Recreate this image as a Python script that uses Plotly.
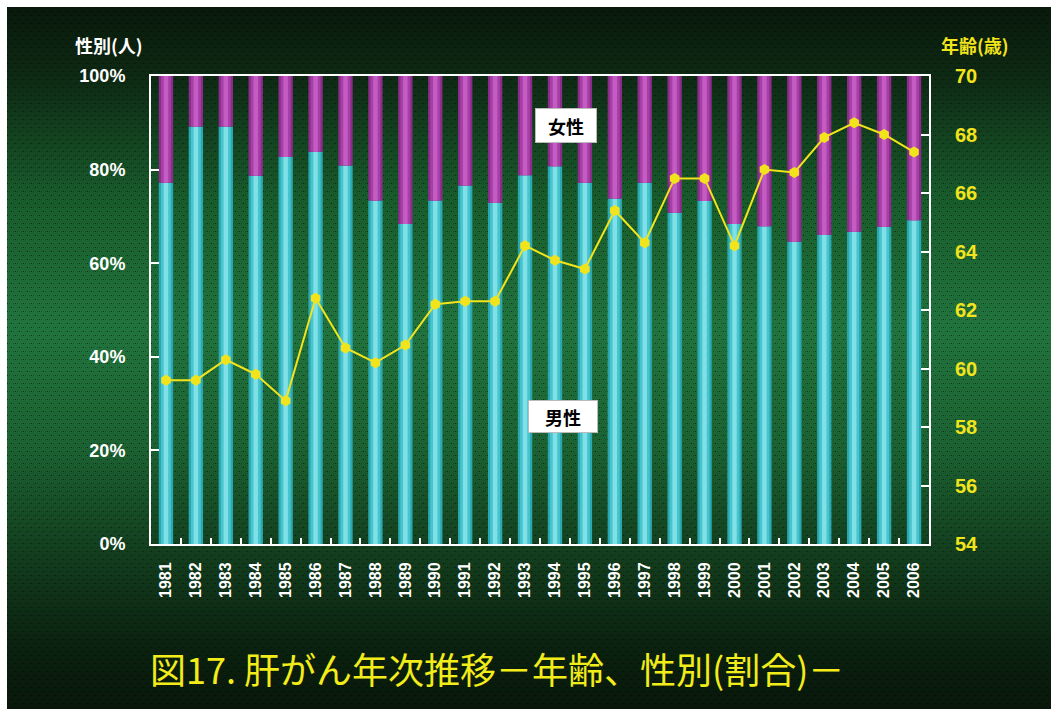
import base64, zlib, struct
import numpy as np
import plotly.graph_objects as go

years = ["1981", "1982", "1983", "1984", "1985", "1986", "1987", "1988", "1989", "1990",
         "1991", "1992", "1993", "1994", "1995", "1996", "1997", "1998", "1999", "2000",
         "2001", "2002", "2003", "2004", "2005", "2006"]
male_pct = [77.2, 89.2, 89.2, 78.7, 82.7, 83.8, 80.9, 73.4, 68.4, 73.4, 76.6, 72.9, 78.8,
            80.7, 77.2, 73.8, 77.2, 70.8, 73.3, 68.4, 67.9, 64.6, 66.0, 66.7, 67.8, 69.2]
female_pct = [22.8, 10.8, 10.8, 21.3, 17.3, 16.2, 19.1, 26.6, 31.6, 26.6, 23.4, 27.1, 21.2,
              19.3, 22.8, 26.2, 22.8, 29.2, 26.7, 31.6, 32.1, 35.4, 34.0, 33.3, 32.2, 30.8]
mean_age = [59.6, 59.6, 60.3, 59.8, 58.9, 62.4, 60.7, 60.2, 60.8, 62.2, 62.3, 62.3, 64.2,
            63.7, 63.4, 65.4, 64.3, 66.5, 66.5, 64.2, 66.8, 66.7, 67.9, 68.4, 68.0, 67.4]
left_ticks = [0, 20, 40, 60, 80, 100]
left_tick_text = ["0%", "20%", "40%", "60%", "80%", "100%"]
right_ticks = [54, 56, 58, 60, 62, 64, 66, 68, 70]

# ---------- background texture (pure python PNG) ----------
W, H = 1044, 702
ys = np.arange(H)
sy = [0, 70, 190, 320, 440, 560, 640, 702]
sr = [9, 14, 25, 34, 28, 18, 11, 9]
sg = [26, 42, 92, 116, 98, 58, 34, 24]
sb = [12, 20, 44, 62, 50, 28, 16, 11]
col = np.stack([np.interp(ys, sy, sr), np.interp(ys, sy, sg), np.interp(ys, sy, sb)], axis=1)
img = np.repeat(col[:, None, :], W, axis=1)
yy, xx = np.mgrid[0:H, 0:W]
mask = ((xx % 8 == 0) & (yy % 8 == 0)) | ((xx % 8 == 4) & (yy % 8 == 4))
img[mask] *= 0.45
mask2 = ((xx % 4 == 2) & (yy % 4 == 0))
img[mask2] *= 0.8
img = np.clip(img, 0, 255).astype(np.uint8)


def png_bytes(a):
    h, w, _ = a.shape
    raw = b"".join(b"\x00" + a[i].tobytes() for i in range(h))

    def chunk(t, d):
        c = struct.pack(">I", len(d)) + t + d
        return c + struct.pack(">I", zlib.crc32(t + d) & 0xffffffff)
    return (b"\x89PNG\r\n\x1a\n" + chunk(b"IHDR", struct.pack(">IIBBBBB", w, h, 8, 2, 0, 0, 0))
            + chunk(b"IDAT", zlib.compress(raw, 9)) + chunk(b"IEND", b""))


bg_uri = "data:image/png;base64," + base64.b64encode(png_bytes(img)).decode()

# ---------- figure ----------
FW, FH = 1058, 709
L, R, T, B = 151, 129, 76, 165
PW, PH = FW - L - R, FH - T - B


def px(xp):
    return (xp - L) / PW


def py(yp):
    return (FH - B - yp) / PH


fig = go.Figure()

male_cols = [("#2aa7b0", 0.48), ("#48c4cd", 0.33), ("#7fe0e7", 0.15)]
fem_cols = [("#8a2c8a", 0.48), ("#a640a6", 0.33), ("#c45cc4", 0.15)]
for c, w in male_cols:
    fig.add_trace(go.Bar(x=years, y=male_pct, width=w, marker=dict(color=c, line=dict(width=0)),
                         showlegend=False, hoverinfo="skip"))
for c, w in fem_cols:
    fig.add_trace(go.Bar(x=years, y=female_pct, base=male_pct, width=w,
                         marker=dict(color=c, line=dict(width=0)),
                         showlegend=False, hoverinfo="skip"))

fig.add_trace(go.Scatter(x=years, y=mean_age, yaxis="y2", mode="lines+markers",
                         line=dict(color="#f2e41c", width=2),
                         marker=dict(symbol="hexagon", size=11, color="#f2e41c"),
                         showlegend=False))

fig.update_layout(
    width=FW, height=FH,
    margin=dict(l=L, r=R, t=T, b=B),
    paper_bgcolor="white",
    plot_bgcolor="rgba(0,0,0,0)",
    barmode="overlay",
    xaxis=dict(type="category", range=[-0.5, 25.5], showline=True, linecolor="white", linewidth=2,
               mirror=True, ticks="inside", tickson="boundaries", ticklen=6, tickcolor="white",
               tickwidth=2, tickangle=-90,
               tickfont=dict(family="Liberation Sans", size=16, color="white", weight="bold"),
               ticklabelstandoff=10, showgrid=False, zeroline=False),
    yaxis=dict(range=[0, 100], tickvals=left_ticks, ticktext=left_tick_text,
               showline=True, linecolor="white", linewidth=2,
               ticks="inside", ticklen=8, tickcolor="white", tickwidth=2,
               tickfont=dict(family="Liberation Sans", size=18, color="white", weight="bold"),
               ticklabelstandoff=20, showgrid=False, zeroline=False),
    yaxis2=dict(range=[54, 70], tickvals=right_ticks, overlaying="y", side="right",
                showline=True, linecolor="white", linewidth=2,
                ticks="inside", ticklen=8, tickcolor="white", tickwidth=2,
                tickfont=dict(family="Liberation Sans", size=20, color="#f2e41c", weight="bold"),
                ticklabelstandoff=20, showgrid=False, zeroline=False),
    images=[dict(source=bg_uri, xref="paper", yref="paper",
                 x=px(7), y=py(7), sizex=W / PW, sizey=H / PH,
                 xanchor="left", yanchor="top", sizing="stretch", layer="below")],
    annotations=[
        dict(text="性別(人)", xref="paper", yref="paper", x=px(109), y=py(45),
             xanchor="center", yanchor="middle",
             showarrow=False, font=dict(family="Noto Sans CJK JP", size=18, color="white", weight="bold")),
        dict(text="年齢(歳)", xref="paper", yref="paper", x=px(975), y=py(45),
             xanchor="center", yanchor="middle",
             showarrow=False, font=dict(family="Noto Sans CJK JP", size=18, color="#f2e41c", weight="bold")),
        dict(text="女性", xref="paper", yref="paper", x=px(566), y=py(125.5),
             xanchor="center", yanchor="middle", showarrow=False,
             bgcolor="white", bordercolor="#bbbbbb", borderwidth=1, width=58, height=31,
             font=dict(family="Noto Sans CJK JP", size=18, color="black", weight="bold")),
        dict(text="男性", xref="paper", yref="paper", x=px(563), y=py(416),
             xanchor="center", yanchor="middle", showarrow=False,
             bgcolor="white", bordercolor="#bbbbbb", borderwidth=1, width=66, height=29,
             font=dict(family="Noto Sans CJK JP", size=18, color="black", weight="bold")),
        dict(text="図17. 肝がん年次推移－年齢、性別(割合)－", xref="paper", yref="paper",
             x=px(148), y=py(668), xanchor="left", yanchor="middle",
             showarrow=False, font=dict(family="Noto Sans CJK JP", size=36, color="#f2ec1a")),
    ],
)

fig.write_html("out.html")
